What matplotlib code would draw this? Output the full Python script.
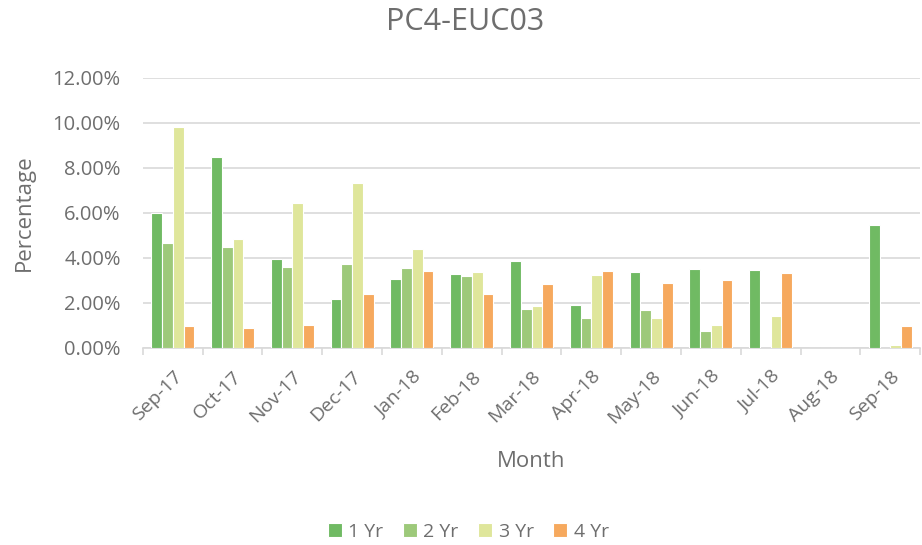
import matplotlib
matplotlib.use("Agg")
import matplotlib.pyplot as plt
import numpy as np
from matplotlib.ticker import FuncFormatter, FixedLocator

months = ["Sep-17", "Oct-17", "Nov-17", "Dec-17", "Jan-18", "Feb-18", "Mar-18",
          "Apr-18", "May-18", "Jun-18", "Jul-18", "Aug-18", "Sep-18"]
yr1 = [5.98, 8.47, 3.97, 2.19, 3.07, 3.29, 3.85, 1.89, 3.36, 3.50, 3.45, 0, 5.46]
yr2 = [4.67, 4.49, 3.59, 3.74, 3.56, 3.20, 1.73, 1.32, 1.71, 0.74, 0, 0, 0]
yr3 = [9.82, 4.85, 6.46, 7.31, 4.42, 3.38, 1.86, 3.23, 1.35, 1.01, 1.41, 0, 0.13]
yr4 = [0.97, 0.91, 1.01, 2.40, 3.44, 2.38, 2.84, 3.42, 2.87, 3.02, 3.32, 0, 0.97]
series = [("1 Yr", yr1, "#70BA63"), ("2 Yr", yr2, "#9DC97A"),
          ("3 Yr", yr3, "#DFE69B"), ("4 Yr", yr4, "#F6A95E")]

plt.rcParams['font.family'] = ['Open Sans', 'DejaVu Sans']
txt = "#6E6E6E"

fig = plt.figure(figsize=(9.22, 5.45), dpi=100)
ax = fig.add_axes([0.155, 0.3615, 0.843, 0.4955])

x = np.arange(len(months))
w = 0.18
for i, (name, vals, col) in enumerate(series):
    ax.bar(x + (i - 1.5) * w, vals, width=w, color=col, edgecolor="white",
           linewidth=0.8, label=name, zorder=3)

ax.set_xlim(-0.5, len(months) - 0.5)
ax.set_ylim(0, 12)
ax.set_yticks(np.arange(0, 12.01, 2))
ax.yaxis.set_major_formatter(FuncFormatter(lambda v, p: f"{v:.2f}%"))
ax.grid(axis="y", color="#D9D9D9", linewidth=1.2, zorder=0)
ax.set_xticks(x)
ax.set_xticklabels(months, rotation=45, ha="right", rotation_mode="anchor")
ax.xaxis.set_minor_locator(FixedLocator(np.arange(-0.5, len(months), 1)))
ax.tick_params(axis="x", which="major", length=0, labelsize=14, colors=txt, pad=14)
ax.tick_params(axis="x", which="minor", length=5, color="#D9D9D9", width=1.2)
ax.tick_params(axis="y", length=0, labelsize=14.5, colors=txt, pad=16)
for s in ["top", "right", "left"]:
    ax.spines[s].set_visible(False)
ax.spines["bottom"].set_color("#D9D9D9")
ax.spines["bottom"].set_linewidth(1.2)

ax.set_ylabel("Percentage", fontsize=16, color=txt)
ax.yaxis.set_label_coords(-0.152, 0.5)
ax.set_xlabel("Month", fontsize=16, color=txt)
ax.xaxis.set_label_coords(0.5, -0.422)
ax.xaxis.label.set_va("center")
ax.yaxis.label.set_va("center")
fig.text(0.505, 0.96, "PC4-EUC03", fontsize=22, color=txt, ha="center", va="center")

leg = fig.legend(loc="center", bbox_to_anchor=(0.508, 0.024), ncol=4, frameon=False,
                 fontsize=14, handlelength=0.7, handleheight=0.7, handletextpad=0.35,
                 columnspacing=1.0)
for t in leg.get_texts():
    t.set_color(txt)

fig.savefig("out.png", dpi=100)
